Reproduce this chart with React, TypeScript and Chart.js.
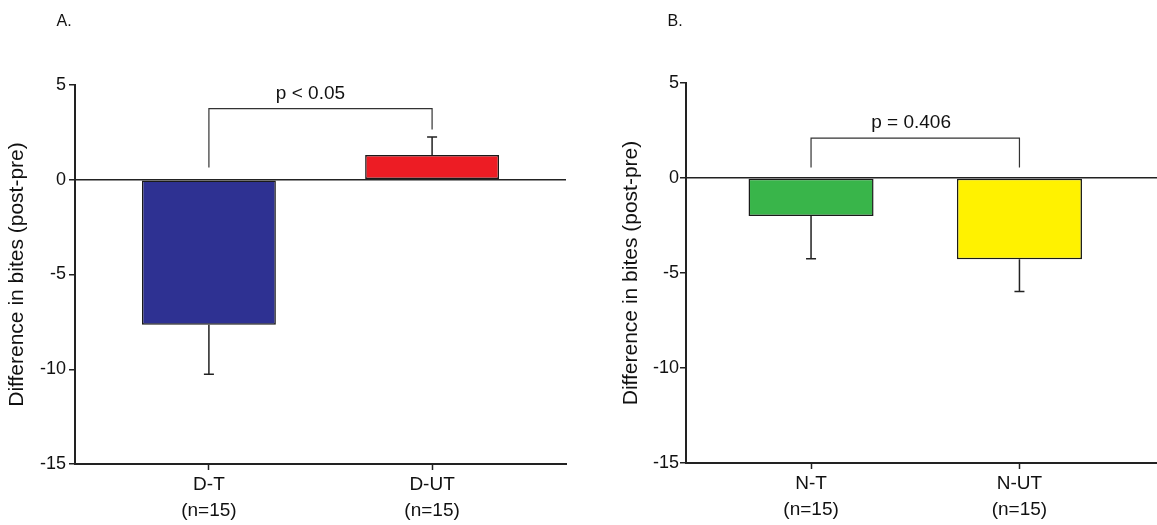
import { useEffect, useRef } from "react";
import { Chart, registerables } from "chart.js";

Chart.register(...registerables);

// ---- data ----
const panelALabels = [["D-T", "(n=15)"], ["D-UT", "(n=15)"]];
const panelAMeans = [-7.65, 1.3];
const panelASem = [2.62, 0.95];
const panelAColors = ["#2e3192", "#ed1c24"];
// bracket: level, left leg end, right leg end (y units)
const panelABracket = [3.75, 0.65, 2.65];
const panelAPText = "p < 0.05";

const panelBLabels = [["N-T", "(n=15)"], ["N-UT", "(n=15)"]];
const panelBMeans = [-2.0, -4.28];
const panelBSem = [2.25, 1.7];
const panelBColors = ["#39b54a", "#fff200"];
const panelBBracket = [2.1, 0.55, 0.55];
const panelBPText = "p = 0.406";

const yMin = -15;
const yMax = 5;
const yStep = 5;
const yTitle = "Difference in bites (post-pre)";

const FONT = "'Liberation Sans', Arial, Helvetica, sans-serif";
const INK = "#111";
const AXIS = "#222";

Chart.defaults.font.family = FONT;
Chart.defaults.color = INK;

type PanelSpec = {
  letter: string;
  labels: string[][];
  means: number[];
  sem: number[];
  colors: string[];
  bracket: number[];
  pText: string;
  pTextX: number;
  left: number;
  width: number;
  padTop: number;
  xAxisH: number;
  yAxisW: number;
  padRight: number;
  xMax: number;
  titlePad: number;
  tickPad: number;
};

const panels: PanelSpec[] = [
  {
    letter: "A.",
    labels: panelALabels,
    means: panelAMeans,
    sem: panelASem,
    colors: panelAColors,
    bracket: panelABracket,
    pText: panelAPText,
    pTextX: 0.455,
    left: 0,
    width: 600,
    padTop: 85,
    xAxisH: 61,
    yAxisW: 75,
    padRight: 34,
    xMax: 1.6,
    titlePad: 5,
    tickPad: 3,
  },
  {
    letter: "B.",
    labels: panelBLabels,
    means: panelBMeans,
    sem: panelBSem,
    colors: panelBColors,
    bracket: panelBBracket,
    pText: panelBPText,
    pTextX: 0.48,
    left: 600,
    width: 557,
    padTop: 83,
    xAxisH: 62,
    yAxisW: 86,
    padRight: 0,
    xMax: 1.66,
    titlePad: 19,
    tickPad: 1,
  },
];

// Error bars, comparison bracket, p-value and panel letter
function makeOverlay(spec: PanelSpec) {
  return {
    id: "panelOverlay",
    afterDatasetsDraw(chart: any) {
      const ctx = chart.ctx;
      const xs = chart.scales.x;
      const ys = chart.scales.y;
      const meta = chart.getDatasetMeta(0);
      ctx.save();

      // error bars (away from zero)
      ctx.strokeStyle = AXIS;
      ctx.lineWidth = 1.5;
      spec.means.forEach((m, i) => {
        const el = meta.data[i];
        const x = el.x;
        const end = m >= 0 ? m + spec.sem[i] : m - spec.sem[i];
        const y0 = ys.getPixelForValue(m);
        const y1 = ys.getPixelForValue(end);
        ctx.beginPath();
        ctx.moveTo(x, y0);
        ctx.lineTo(x, y1);
        ctx.moveTo(x - 5, y1);
        ctx.lineTo(x + 5, y1);
        ctx.stroke();
      });

      // bracket
      const [level, leftEnd, rightEnd] = spec.bracket;
      const bx0 = xs.getPixelForValue(0);
      const bx1 = xs.getPixelForValue(1);
      const by = ys.getPixelForValue(level);
      ctx.strokeStyle = "#333";
      ctx.lineWidth = 1.2;
      ctx.beginPath();
      ctx.moveTo(bx0, ys.getPixelForValue(leftEnd));
      ctx.lineTo(bx0, by);
      ctx.lineTo(bx1, by);
      ctx.lineTo(bx1, ys.getPixelForValue(rightEnd));
      ctx.stroke();

      // p-value
      ctx.fillStyle = INK;
      ctx.font = `19px ${FONT}`;
      ctx.textAlign = "center";
      ctx.textBaseline = "alphabetic";
      ctx.fillText(spec.pText, xs.getPixelForValue(spec.pTextX), by - 10);

      // panel letter
      ctx.font = `16px ${FONT}`;
      ctx.textAlign = "left";
      ctx.fillText(spec.letter, chart.chartArea.left - 18.5, 26);

      ctx.restore();
    },
  };
}

function Panel({ spec }: { spec: PanelSpec }) {
  const ref = useRef<HTMLCanvasElement>(null);

  useEffect(() => {
    if (!ref.current) return;
    const chart = new Chart(ref.current, {
      type: "bar",
      data: {
        datasets: [
          {
            data: spec.means.map((y, i) => ({ x: i, y })),
            backgroundColor: spec.colors,
            borderColor: "#1a1a1a",
            borderWidth: 1.5,
            borderSkipped: false,
            barPercentage: 0.6,
            categoryPercentage: 1,
          } as any,
        ],
      },
      options: {
        animation: false,
        responsive: false,
        events: [],
        layout: {
          padding: { top: spec.padTop, right: spec.padRight, bottom: 0, left: 0 },
        },
        plugins: {
          legend: { display: false },
          tooltip: { enabled: false },
        },
        scales: {
          x: {
            type: "linear",
            offset: false,
            min: -0.6,
            max: spec.xMax,
            afterBuildTicks: (scale: any) => {
              scale.ticks = spec.labels.map((_, i) => ({ value: i }));
            },
            afterFit: (scale: any) => {
              scale.height = spec.xAxisH;
            },
            ticks: {
              autoSkip: false,
              maxRotation: 0,
              padding: 2,
              color: INK,
              font: { size: 19, lineHeight: 1.37 },
              callback: (v: any) => spec.labels[Math.round(Number(v))] ?? "",
            },
            grid: {
              display: true,
              offset: false,
              drawOnChartArea: false,
              drawTicks: true,
              tickLength: 6,
              tickColor: AXIS,
              tickWidth: 1.5,
            },
            border: { display: true, color: AXIS, width: 2 },
          },
          y: {
            type: "linear",
            min: yMin,
            max: yMax,
            afterFit: (scale: any) => {
              scale.width = spec.yAxisW;
            },
            ticks: {
              stepSize: yStep,
              padding: spec.tickPad,
              color: INK,
              font: { size: 18 },
            },
            grid: {
              display: true,
              drawOnChartArea: true,
              drawTicks: true,
              tickLength: 6,
              color: (c: any) => (c.tick && c.tick.value === 0 ? AXIS : "rgba(0,0,0,0)"),
              lineWidth: 1.5,
              tickColor: AXIS,
              tickWidth: 1.5,
            },
            border: { display: true, color: AXIS, width: 2 },
            title: {
              display: true,
              text: yTitle,
              color: INK,
              font: { size: 21 },
              padding: { top: spec.titlePad, bottom: 0 },
            },
          },
        },
      },
      plugins: [makeOverlay(spec)],
    });
    return () => chart.destroy();
  }, [spec]);

  return (
    <canvas
      ref={ref}
      width={spec.width}
      height={525}
      style={{
        position: "absolute",
        left: spec.left,
        top: 0,
        width: spec.width,
        height: 525,
      }}
    />
  );
}

export default function App() {
  return (
    <div
      style={{
        position: "absolute",
        left: 0,
        top: 0,
        width: 1157,
        height: 525,
        background: "#fff",
        overflow: "hidden",
      }}
    >
      {panels.map((p) => (
        <Panel key={p.letter} spec={p} />
      ))}
    </div>
  );
}
